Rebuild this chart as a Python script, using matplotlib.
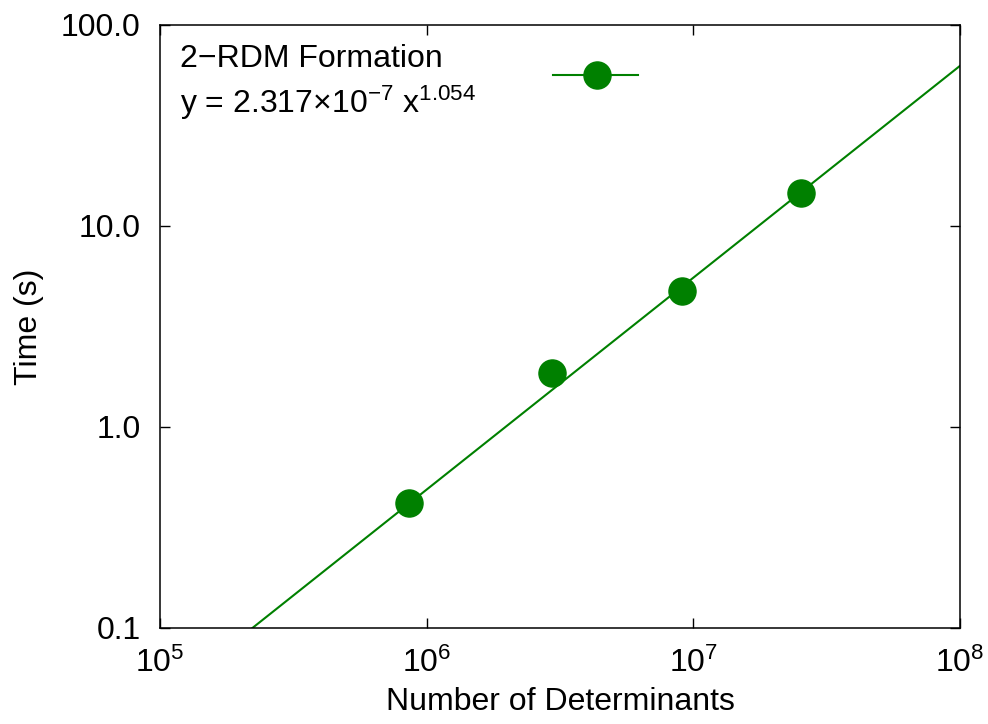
import numpy as np
import matplotlib
matplotlib.use("Agg")
import matplotlib.pyplot as plt

plt.rcParams['font.family'] = ['Liberation Sans', 'DejaVu Sans']
plt.rcParams['mathtext.fontset'] = 'custom'
plt.rcParams['mathtext.rm'] = 'Liberation Sans'
plt.rcParams['mathtext.it'] = 'Liberation Sans'
plt.rcParams['mathtext.default'] = 'regular'

# measured timings
determinants = [8.6e5, 2.95e6, 9.06e6, 2.53e7]
times = [0.42, 1.85, 4.75, 14.6]

# power-law fit y = a * x^b
fit_a = 2.317e-7
fit_b = 1.054

x_ticks = [1e5, 1e6, 1e7, 1e8]
y_ticks = [0.1, 1.0, 10.0, 100.0]
y_tick_labels = ['0.1', '1.0', '10.0', '100.0']

green = '#008000'
fs = 23

fig = plt.figure(figsize=(9.88, 7.24), dpi=100)
ax = fig.add_axes([0.162, 0.1326, 0.8097, 0.8329])

xfit = np.logspace(5, 8, 200)
ax.plot(xfit, fit_a * xfit ** fit_b, color=green, lw=1.5, zorder=2)
ax.plot(determinants, times, 'o', color=green, ms=19.5, mec=green, zorder=3)

ax.set_xscale('log')
ax.set_yscale('log')
ax.set_xlim(1e5, 1e8)
ax.set_ylim(0.1, 100)
ax.set_xticks(x_ticks)
ax.set_yticks(y_ticks)
ax.set_yticklabels(y_tick_labels)
ax.minorticks_off()
ax.tick_params(which='both', direction='in', top=True, right=True,
               length=7, width=1, labelsize=fs)
ax.tick_params(axis='y', pad=14)
ax.tick_params(axis='x', pad=14)
for s in ax.spines.values():
    s.set_linewidth(1.1)

ax.set_xlabel('Number of Determinants', fontsize=fs, labelpad=6)
ax.set_ylabel('Time (s)', fontsize=fs, labelpad=12)

# key: text on the left, sample on the right
ax.text(0.025, 0.930, '2\u2212RDM Formation', transform=ax.transAxes,
        fontsize=fs, va='baseline', ha='left')
ax.text(0.025, 0.854, r'y = 2.317$\times$10$^{-7}$ x$^{1.054}$',
        transform=ax.transAxes, fontsize=fs, va='baseline', ha='left')
ax.plot([0.491, 0.598], [0.917, 0.917], color=green, lw=1.5,
        transform=ax.transAxes, clip_on=False)
ax.plot([0.546], [0.917], 'o', color=green, ms=19.5,
        transform=ax.transAxes, clip_on=False)

fig.savefig('out.png', dpi=100)
